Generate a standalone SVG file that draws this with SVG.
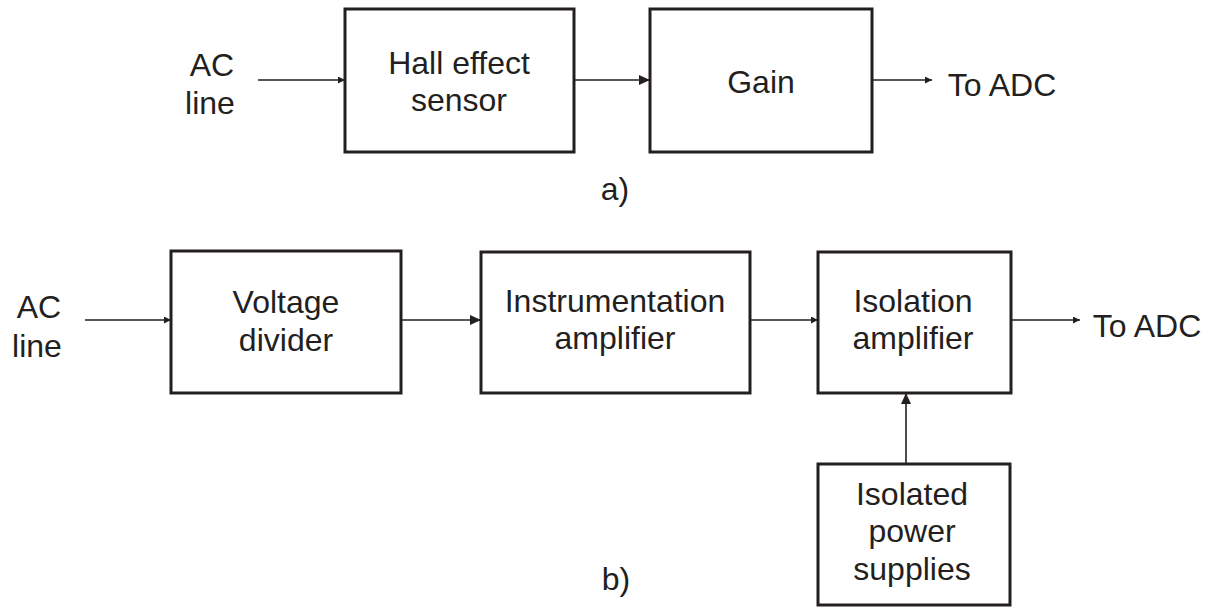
<svg xmlns="http://www.w3.org/2000/svg" width="1217" height="607" viewBox="0 0 1217 607">
<style>
.box{fill:#fff;stroke:#231f20;stroke-width:3}
.ln{stroke:#231f20;stroke-width:1.6;fill:none}
text{font-family:"Liberation Sans",Arial,sans-serif;font-size:32px;fill:#231f20;text-anchor:middle}
</style>
<defs>
<marker id="ah" viewBox="0 0 10 10" refX="10" refY="5" markerWidth="7" markerHeight="7" markerUnits="userSpaceOnUse" orient="auto"><path d="M0,0 L10,5 L0,10 z" fill="#231f20"/></marker>
<marker id="ahL" viewBox="0 0 10 10" refX="10" refY="5" markerWidth="11" markerHeight="10" markerUnits="userSpaceOnUse" orient="auto" preserveAspectRatio="none"><path d="M0,0 L10,5 L0,10 z" fill="#231f20"/></marker>
</defs>
<rect width="1217" height="607" fill="#fff"/>
<g id="connectors">
<line class="ln" x1="258" y1="80" x2="345" y2="80" marker-end="url(#ah)"/>
<line class="ln" x1="574" y1="80" x2="650" y2="80" marker-end="url(#ahL)"/>
<line class="ln" x1="872" y1="80" x2="932" y2="80" marker-end="url(#ah)"/>
<line class="ln" x1="85" y1="320" x2="171" y2="320" marker-end="url(#ah)"/>
<line class="ln" x1="401" y1="320" x2="481" y2="320" marker-end="url(#ahL)"/>
<line class="ln" x1="750" y1="320" x2="818" y2="320" marker-end="url(#ah)"/>
<line class="ln" x1="1011" y1="320" x2="1080" y2="320" marker-end="url(#ah)"/>
<line class="ln" x1="906" y1="464" x2="906" y2="393" marker-end="url(#ahL)"/>
</g>
<g id="ac-line-a"><text x="212" y="76">AC</text><text x="210" y="114">line</text></g>
<g id="hall"><rect class="box" x="345" y="9" width="229" height="143"/><text x="459" y="74">Hall effect</text><text x="459" y="111">sensor</text></g>
<g id="gain"><rect class="box" x="650" y="9" width="222" height="143"/><text x="761" y="93">Gain</text></g>
<g id="to-adc-a"><text x="1002" y="96">To ADC</text></g>
<g id="label-a"><text x="615" y="200">a)</text></g>
<g id="ac-line-b"><text x="39" y="318">AC</text><text x="37" y="357">line</text></g>
<g id="vdiv"><rect class="box" x="171" y="251" width="230" height="142"/><text x="286" y="313">Voltage</text><text x="286" y="351">divider</text></g>
<g id="inamp"><rect class="box" x="481" y="252" width="269" height="141"/><text x="615" y="312">Instrumentation</text><text x="615" y="349">amplifier</text></g>
<g id="isoamp"><rect class="box" x="818" y="252" width="193" height="141"/><text x="913" y="312">Isolation</text><text x="913" y="349">amplifier</text></g>
<g id="to-adc-b"><text x="1147" y="337">To ADC</text></g>
<g id="isopwr"><rect class="box" x="818" y="464" width="192" height="141"/><text x="912" y="505">Isolated</text><text x="912" y="542">power</text><text x="912" y="580">supplies</text></g>
<g id="label-b"><text x="616" y="590">b)</text></g>
</svg>
